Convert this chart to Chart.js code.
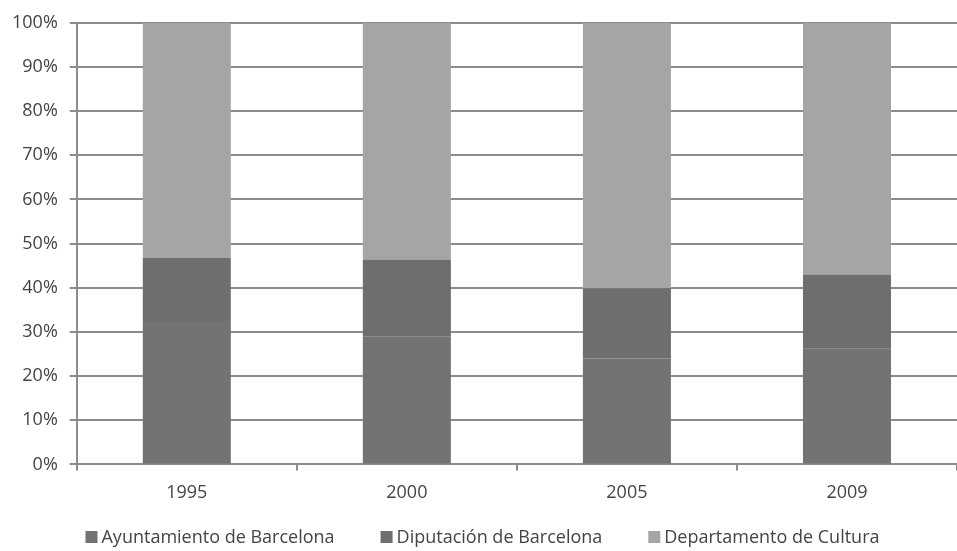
<!DOCTYPE html>
<html>
<head>
<meta charset="utf-8">
<script src="https://cdn.jsdelivr.net/npm/chart.js@4"></script>
<style>
  html, body { margin: 0; padding: 0; background: #fff; }
  #wrap { width: 957px; height: 551px; }
</style>
</head>
<body>
<div id="wrap"><canvas id="chart" width="957" height="551"></canvas></div>
<script>
// Years on the x axis
const years = ['1995', '2000', '2005', '2009'];

// Share of funding per source (percent, stacked to 100)
const ayuntamiento = [32.5, 29.0, 24.0, 26.2];
const diputacion = [14.3, 17.4, 15.9, 16.8];
const departamento = [53.2, 53.6, 60.1, 57.0];

const seriesNames = ['Ayuntamiento de Barcelona', 'Diputación de Barcelona', 'Departamento de Cultura'];

const fontFamily = '"Open Sans", "DejaVu Sans", sans-serif';
const textColor = '#444444';
const gridColor = '#8c8c8c';

// Compact legend like the spreadsheet one: small square tight against the text
const compactLegend = {
    id: 'compactLegend',
    afterDraw(chart) {
        const c = chart.ctx;
        const box = 12, gap = 4, spacing = 46;
        c.save();
        c.font = '18px ' + fontFamily;
        c.textBaseline = 'middle';
        const items = chart.data.datasets.map(ds => ({
            text: ds.label,
            color: ds.backgroundColor,
            w: box + gap + c.measureText(ds.label).width
        }));
        const total = items.reduce((s, it) => s + it.w, 0) + spacing * (items.length - 1);
        let x = (chart.width - total) / 2 + 4;
        const y = 537;
        items.forEach(it => {
            c.fillStyle = it.color;
            c.fillRect(x, y - box / 2, box, box);
            c.fillStyle = textColor;
            c.fillText(it.text, x + box + gap, y + 1);
            x += it.w + spacing;
        });
        c.restore();
    }
};

const ctx = document.getElementById('chart');

new Chart(ctx, {
    type: 'bar',
    data: {
        labels: years,
        datasets: [
            {
                label: seriesNames[0],
                data: ayuntamiento,
                backgroundColor: '#737374',
                categoryPercentage: 1,
                barPercentage: 0.4
            },
            {
                label: seriesNames[1],
                data: diputacion,
                backgroundColor: '#6e6e70',
                categoryPercentage: 1,
                barPercentage: 0.4
            },
            {
                label: seriesNames[2],
                data: departamento,
                backgroundColor: '#a5a5a7',
                categoryPercentage: 1,
                barPercentage: 0.4
            }
        ]
    },
    plugins: [compactLegend],
    options: {
        responsive: false,
        animation: false,
        layout: {
            padding: { left: 0, right: 0, top: 12, bottom: 35 }
        },
        plugins: {
            legend: { display: false },
            tooltip: { enabled: false }
        },
        scales: {
            x: {
                stacked: true,
                offset: true,
                border: { color: gridColor, width: 2 },
                grid: {
                    offset: true,
                    drawOnChartArea: false,
                    drawTicks: true,
                    tickLength: 6,
                    color: gridColor,
                    lineWidth: 2
                },
                ticks: {
                    color: textColor,
                    padding: 12,
                    font: { family: fontFamily, size: 18 }
                }
            },
            y: {
                stacked: true,
                min: 0,
                max: 100,
                border: { color: gridColor, width: 2 },
                grid: {
                    color: gridColor,
                    lineWidth: 2,
                    tickLength: 7
                },
                ticks: {
                    stepSize: 10,
                    color: textColor,
                    padding: 12,
                    font: { family: fontFamily, size: 18 },
                    callback: function (value) {
                        return value + '%';
                    }
                }
            }
        }
    }
});
</script>
</body>
</html>
